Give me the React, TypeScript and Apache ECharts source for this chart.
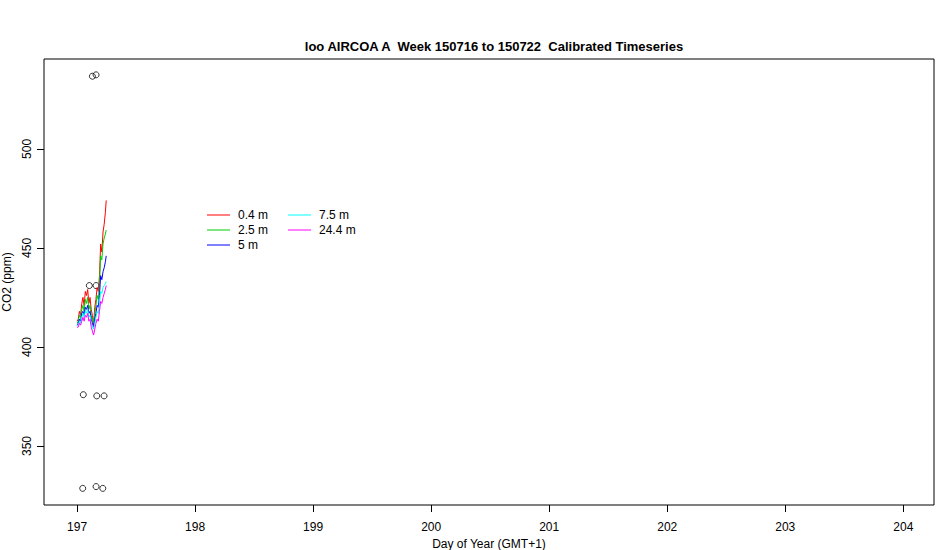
import React, { useEffect, useRef } from "react";
import * as echarts from "echarts";

const titleText = "loo AIRCOA A  Week 150716 to 150722  Calibrated Timeseries";
const xTicks = [197, 198, 199, 200, 201, 202, 203, 204];
const yTicks = [350, 400, 450, 500];

const days = [197.0, 197.01, 197.02, 197.03, 197.04, 197.05, 197.06, 197.07, 197.08, 197.09, 197.1, 197.11, 197.12, 197.13, 197.14, 197.15, 197.16, 197.17, 197.18, 197.19, 197.2, 197.21, 197.22, 197.23, 197.24, 197.247];
const seriesNames = ["0.4 m", "2.5 m", "5 m", "7.5 m", "24.4 m"];
const seriesColors = ["#ff0000", "#00cd00", "#0000ff", "#00ffff", "#ff00ff"];
const s04 = [413, 414, 418, 416, 422, 425, 421, 428, 426, 429, 422, 425, 419, 416, 411, 420, 424, 430, 428, 436, 452, 448, 458, 462, 468, 474];
const s25 = [412, 413, 416, 415, 419, 421, 418, 424, 422, 425, 419, 421, 416, 414, 412, 417, 421, 426, 424, 432, 446, 444, 452, 455, 457, 459];
const s5 = [411, 412, 414, 413, 417, 418, 416, 420, 419, 421, 417, 418, 414, 412, 410, 414, 417, 421, 420, 426, 436, 434, 438, 440, 443, 446];
const s75 = [411, 411, 413, 412, 415, 417, 415, 418, 417, 419, 415, 416, 412, 410, 409, 412, 415, 418, 417, 422, 428, 427, 430, 431, 432, 433];
const s244 = [410, 410, 412, 411, 413, 415, 413, 416, 415, 417, 413, 414, 410, 408, 406, 409, 412, 414, 413, 418, 423, 422, 425, 427, 429, 431];

const pointDays = [197.13, 197.161, 197.053, 197.167, 197.229, 197.048, 197.161, 197.218, 197.104, 197.161];
const pointVals = [536.7, 537.4, 375.9, 375.3, 375.3, 328.6, 329.5, 328.6, 431, 431];

export default function App() {
  const ref = useRef<HTMLDivElement>(null);
  useEffect(() => {
    if (!ref.current) return;
    document.body.style.margin = "0";
    const chart = echarts.init(ref.current, null, { renderer: "svg" });
    const allSeries = [s04, s25, s5, s75, s244];
    const font = "Liberation Sans, Arial, sans-serif";
    const legendGraphics: any[] = [];
    seriesNames.forEach((n, i) => {
      const col = i < 3 ? 0 : 1;
      const row = i < 3 ? i : i - 3;
      const lx = 207 + col * 81;
      const ly = 215 + row * 15;
      legendGraphics.push({
        type: "line",
        shape: { x1: lx, y1: ly, x2: lx + 23, y2: ly },
        style: { stroke: seriesColors[i], lineWidth: 1 },
      });
      legendGraphics.push({
        type: "text",
        x: lx + 31,
        y: ly,
        style: { text: n, fill: "#000", font: `12px ${font}`, verticalAlign: "middle" },
      });
    });
    chart.setOption({
      animation: false,
      backgroundColor: "#fff",
      title: {
        text: titleText,
        left: 489,
        top: 35,
        textAlign: "center",
        textStyle: { fontFamily: font, fontSize: 13, fontWeight: "bold", color: "#000" },
      },
      grid: { left: 44, right: 16, top: 59, bottom: 45, containLabel: false, outerBoundsMode: "none", show: true, borderColor: "#000", borderWidth: 1, backgroundColor: "transparent" },
      xAxis: {
        type: "value",
        min: 196.72,
        max: 204.26,
        name: "Day of Year (GMT+1)",
        nameLocation: "middle",
        nameGap: 28,
        nameTextStyle: { fontFamily: font, fontSize: 12, color: "#000" },
        axisLine: { show: false },
        splitLine: { show: false },
        axisTick: { show: true, length: 7, customValues: xTicks, lineStyle: { color: "#000" } },
        axisLabel: { customValues: xTicks, margin: 16, fontFamily: font, fontSize: 12, color: "#000", formatter: (v: number) => String(v) },
      },
      yAxis: {
        type: "value",
        min: 320.2,
        max: 545.4,
        name: "CO2 (ppm)",
        nameLocation: "middle",
        nameGap: 28,
        nameRotate: 90,
        nameTextStyle: { fontFamily: font, fontSize: 12, color: "#000" },
        axisLine: { show: false },
        splitLine: { show: false },
        axisTick: { show: true, length: 7, customValues: yTicks, lineStyle: { color: "#000" } },
        axisLabel: { customValues: yTicks, rotate: 90, margin: 11, fontFamily: font, fontSize: 12, color: "#000", formatter: (v: number) => String(v) },
      },
      graphic: legendGraphics,
      series: [
        ...allSeries.map((s, i) => ({
          type: "line",
          name: seriesNames[i],
          data: days.map((d, j) => [d, s[j]]),
          showSymbol: false,
          lineStyle: { color: seriesColors[i], width: 1 },
          itemStyle: { color: seriesColors[i] },
        })),
        {
          type: "scatter",
          data: pointDays.map((d, j) => [d, pointVals[j]]),
          symbol: "circle",
          symbolSize: 6,
          itemStyle: { color: "transparent", borderColor: "#000", borderWidth: 1 },
        },
      ],
    });
    return () => chart.dispose();
  }, []);
  return <div ref={ref} style={{ width: 950, height: 550 }} />;
}
